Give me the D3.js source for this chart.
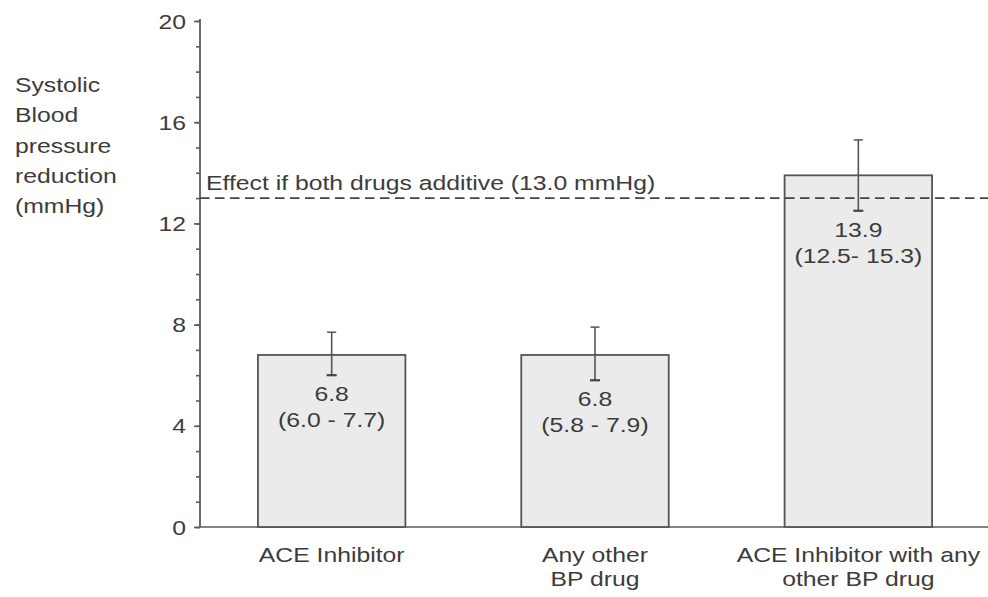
<!DOCTYPE html>
<html>
<head>
<meta charset="utf-8">
<script src="https://cdn.jsdelivr.net/npm/d3@7"></script>
<style>
  html, body { margin: 0; padding: 0; background: #fff; }
  svg { display: block; }
  text { font-family: "Liberation Sans", Arial, sans-serif; fill: #3c3c3c; }
</style>
</head>
<body>
<svg id="chart" width="988" height="597"></svg>
<script>
// ---- data ----
const categories = [["ACE Inhibitor"], ["Any other", "BP drug"], ["ACE Inhibitor with any", "other BP drug"]];
const values = [6.8, 6.8, 13.9];
const lowerCI = [6.0, 5.8, 12.5];
const upperCI = [7.7, 7.9, 15.3];
const valueLabels = ["6.8", "6.8", "13.9"];
const rangeLabels = ["(6.0 - 7.7)", "(5.8 - 7.9)", "(12.5- 15.3)"];
const yTicks = [0, 4, 8, 12, 16, 20];
const yMinorTicks = d3.range(0, 21, 1);
const additiveEffect = 13.0;
const additiveLabel = "Effect if both drugs additive (13.0 mmHg)";
const yTitle = ["Systolic", "Blood", "pressure", "reduction", "(mmHg)"];

// ---- layout ----
const svg = d3.select("#chart");
const mLeft = 200, mRight = 990, mTop = 21, mBottom = 527;
const FS = 19.5;   // font size
const SX = 1.27;   // horizontal stretch of the text in the original

function label(parent, x, y, str, anchor) {
  return parent.append("text")
    .attr("transform", `translate(${x},${y}) scale(${SX},1)`)
    .attr("text-anchor", anchor || "start")
    .style("font-size", FS + "px")
    .text(str);
}

const x = d3.scaleBand()
  .domain(d3.range(categories.length))
  .range([mLeft, mRight])
  .paddingInner(0.44)
  .paddingOuter(0.22);

const y = d3.scaleLinear().domain([0, 20]).range([mBottom, mTop]);

const axisColor = "#5a5a5a";

// minor ticks
svg.append("g")
  .attr("transform", `translate(${mLeft},0)`)
  .call(d3.axisLeft(y).tickValues(yMinorTicks).tickSize(4).tickFormat(""))
  .call(g => g.select(".domain").remove())
  .call(g => g.selectAll("line").attr("stroke", axisColor).attr("stroke-width", 1.6));

// major ticks + labels
svg.append("g")
  .attr("transform", `translate(${mLeft},0)`)
  .call(d3.axisLeft(y).tickValues(yTicks).tickSize(6).tickFormat(d3.format("d")))
  .call(g => g.select(".domain").attr("stroke", axisColor).attr("stroke-width", 1.8).attr("d", `M0,${y(20) - 2}V${mBottom}`))
  .call(g => g.selectAll("line").attr("stroke", axisColor).attr("stroke-width", 1.6))
  .call(g => g.selectAll("text")
    .attr("font-family", null)
    .attr("font-size", null)
    .style("font-size", FS + "px")
    .attr("fill", "#444")
    .attr("x", -14 / SX)
    .attr("dy", "0.36em")
    .attr("transform", `scale(${SX},1)`));

// x axis baseline
svg.append("line")
  .attr("x1", mLeft).attr("x2", 988)
  .attr("y1", y(0)).attr("y2", y(0))
  .attr("stroke", axisColor).attr("stroke-width", 1.6);

// bars
svg.append("g").selectAll("rect")
  .data(values)
  .join("rect")
  .attr("x", (d, i) => x(i))
  .attr("y", d => y(d))
  .attr("width", x.bandwidth())
  .attr("height", d => y(0) - y(d))
  .attr("fill", "#ebebeb")
  .attr("stroke", "#555")
  .attr("stroke-width", 1.8);

// additive effect dashed line
svg.append("line")
  .attr("x1", mLeft).attr("x2", 988)
  .attr("y1", y(additiveEffect)).attr("y2", y(additiveEffect))
  .attr("stroke", "#444").attr("stroke-width", 1.7)
  .attr("stroke-dasharray", "9.5,5.5");

label(svg, mLeft + 6, y(additiveEffect) - 8, additiveLabel, "start").attr("fill", "#444");

// error bars + value labels
const eb = svg.append("g");
values.forEach((v, i) => {
  const cx = x(i) + x.bandwidth() / 2;
  eb.append("line")
    .attr("x1", cx).attr("x2", cx)
    .attr("y1", y(upperCI[i])).attr("y2", y(lowerCI[i]))
    .attr("stroke", "#555").attr("stroke-width", 1.6);
  eb.append("line")
    .attr("x1", cx - 4.5).attr("x2", cx + 4.5)
    .attr("y1", y(upperCI[i])).attr("y2", y(upperCI[i]))
    .attr("stroke", "#555").attr("stroke-width", 1.5);
  eb.append("line")
    .attr("x1", cx - 5).attr("x2", cx + 5)
    .attr("y1", y(lowerCI[i])).attr("y2", y(lowerCI[i]))
    .attr("stroke", "#444").attr("stroke-width", 2.2);
  label(svg, cx, y(lowerCI[i]) + 26, valueLabels[i], "middle");
  label(svg, cx, y(lowerCI[i]) + 52, rangeLabels[i], "middle");
});

// category labels
categories.forEach((lines, i) => {
  const cx = x(i) + x.bandwidth() / 2;
  lines.forEach((ln, j) => {
    label(svg, cx, 562 + j * 24, ln, "middle");
  });
});

// y-axis title
yTitle.forEach((ln, j) => {
  label(svg, 15, 92 + j * 30.3, ln, "start").attr("fill", "#444");
});
</script>
</body>
</html>
